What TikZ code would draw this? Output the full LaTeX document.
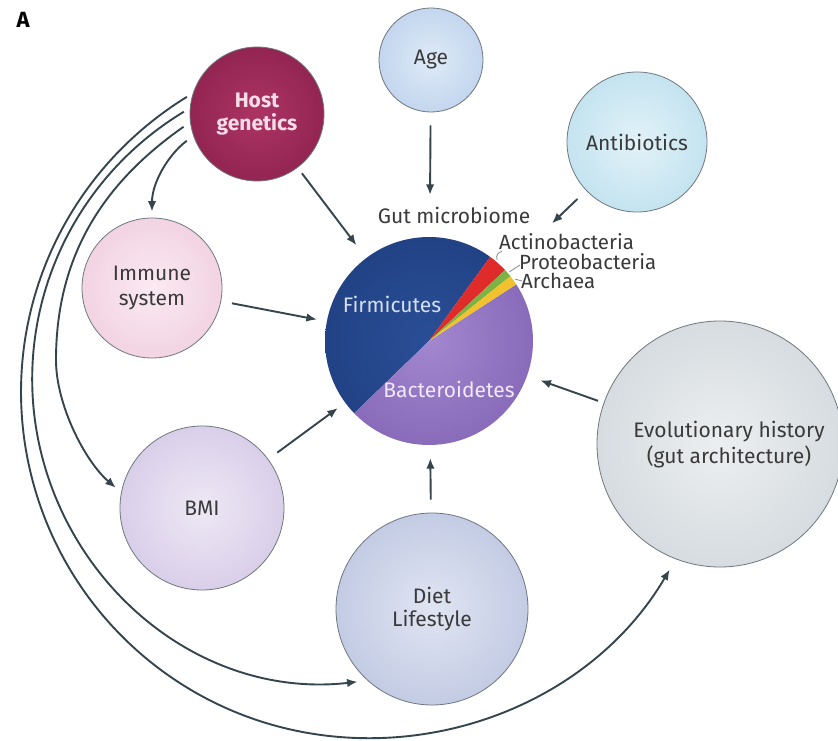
\documentclass[tikz,border=0pt]{standalone}
\usepackage{fontspec}
\setmainfont{Fira Sans}
\usetikzlibrary{arrows.meta,calc}

\definecolor{arrowc}{HTML}{34454D}
\definecolor{edgec}{HTML}{6E7780}
\definecolor{textc}{HTML}{3A3A3A}
\definecolor{leadc}{HTML}{8A8A8A}
\definecolor{ageIn}{HTML}{DEEAF7}
\definecolor{ageOut}{HTML}{A9C3E6}
\definecolor{hostIn}{HTML}{AC3463}
\definecolor{hostOut}{HTML}{7A1641}
\definecolor{antiIn}{HTML}{E2F2F8}
\definecolor{antiOut}{HTML}{A6D5E8}
\definecolor{immIn}{HTML}{FBEAF2}
\definecolor{immOut}{HTML}{E9BCD3}
\definecolor{bmiIn}{HTML}{EEE8F5}
\definecolor{bmiOut}{HTML}{C5B5DD}
\definecolor{dietIn}{HTML}{E0E5F2}
\definecolor{dietOut}{HTML}{A7B2D7}
\definecolor{evoIn}{HTML}{ECEFF1}
\definecolor{evoOut}{HTML}{C1C9CF}
\definecolor{firmIn}{HTML}{2A4E96}
\definecolor{firmOut}{HTML}{193674}
\definecolor{bactIn}{HTML}{A287CF}
\definecolor{bactOut}{HTML}{6F4FA5}
\definecolor{actc}{HTML}{E02B2B}
\definecolor{proc}{HTML}{7DB244}
\definecolor{arcc}{HTML}{F2C12E}
\definecolor{hosttext}{HTML}{F8DDE9}
\definecolor{firmtext}{HTML}{D3E0F3}
\definecolor{bacttext}{HTML}{F1E8FA}

\pgfdeclareradialshading{shAge}{\pgfpoint{0bp}{0bp}}{color(0bp)=(ageIn);color(50bp)=(ageOut);color(100bp)=(ageOut)}
\pgfdeclareradialshading{shHost}{\pgfpoint{0bp}{0bp}}{color(0bp)=(hostIn);color(50bp)=(hostOut);color(100bp)=(hostOut)}
\pgfdeclareradialshading{shAnti}{\pgfpoint{0bp}{0bp}}{color(0bp)=(antiIn);color(50bp)=(antiOut);color(100bp)=(antiOut)}
\pgfdeclareradialshading{shImm}{\pgfpoint{0bp}{0bp}}{color(0bp)=(immIn);color(50bp)=(immOut);color(100bp)=(immOut)}
\pgfdeclareradialshading{shBmi}{\pgfpoint{0bp}{0bp}}{color(0bp)=(bmiIn);color(50bp)=(bmiOut);color(100bp)=(bmiOut)}
\pgfdeclareradialshading{shDiet}{\pgfpoint{0bp}{0bp}}{color(0bp)=(dietIn);color(50bp)=(dietOut);color(100bp)=(dietOut)}
\pgfdeclareradialshading{shEvo}{\pgfpoint{0bp}{0bp}}{color(0bp)=(evoIn);color(50bp)=(evoOut);color(100bp)=(evoOut)}
\pgfdeclareradialshading{shFirm}{\pgfpoint{0bp}{0bp}}{color(0bp)=(firmIn);color(50bp)=(firmOut);color(100bp)=(firmOut)}
\pgfdeclareradialshading{shBact}{\pgfpoint{0bp}{0bp}}{color(0bp)=(bactIn);color(50bp)=(bactOut);color(100bp)=(bactOut)}

\newcommand\labfont{\fontsize{21}{24.5}\selectfont}
\newcommand\smallfont{\fontsize{20.5}{22}\selectfont}

\tikzset{
  bub/.style={circle, draw=edgec, line width=0.8pt, inner sep=0pt, align=center,
              font=\labfont, text=textc, shade},
  arr/.style={draw=arrowc, line width=1.9pt, -{Latex[length=10.5pt,width=8.5pt]}},
  lead/.style={draw=leadc, line width=0.8pt},
  plain/.style={font=\labfont, text=textc, align=center, inner sep=1pt},
}

\begin{document}
\begin{tikzpicture}[x=1pt,y=-1pt]
\useasboundingbox (0,0) rectangle (838,741);
\fill[white] (0,0) rectangle (838,741);
\clip (0,0) rectangle (838,741);

% label A
\node[font=\bfseries\fontsize{22}{24}\selectfont, text=black] (lblA) at (23,20) {A};

% bubbles
\node[bub, minimum size=104pt, shading=shAge] (age) at (431,60) {Age};
\node[bub, minimum size=134pt, shading=shHost, text=hosttext, font=\fontsize{21}{23}\selectfont\bfseries] (host) at (257,114) {Host\\genetics};
\node[bub, minimum size=140pt, shading=shAnti] (anti) at (637,142) {Antibiotics};
\node[bub, minimum size=140pt, shading=shImm] (immune) at (152,288) {Immune\\system};
\node[bub, minimum size=164pt, shading=shBmi] (bmi) at (202,508) {BMI};
\node[bub, minimum size=192pt, shading=shDiet, font=\fontsize{21}{23}\selectfont] (diet) at (432,609) {Diet\\Lifestyle};
\node[bub, minimum size=246pt, shading=shEvo] (evo) at (720,444) {};
\node[plain, font=\fontsize{21}{26}\selectfont] (evotext) at (729,445) {Evolutionary history\\(gut architecture)};

% pie chart
\node[circle, minimum size=208pt, inner sep=0pt] (pie) at (429,341) {};
\begin{scope}
  \clip (pie.center) -- ($(pie.center)+(54:104pt)$) arc[start angle=54, end angle=224, radius=104pt] -- cycle;
  \shade[shading=shFirm] (pie.center) circle[radius=104pt];
\end{scope}
\begin{scope}
  \clip (pie.center) -- ($(pie.center)+(224:104pt)$) arc[start angle=224, end angle=393, radius=104pt] -- cycle;
  \shade[shading=shBact] (pie.center) circle[radius=104pt];
\end{scope}
\fill[actc] (pie.center) -- ($(pie.center)+(43:104pt)$) arc[start angle=43, end angle=54, radius=104pt] -- cycle;
\fill[proc] (pie.center) -- ($(pie.center)+(38.5:104pt)$) arc[start angle=38.5, end angle=43, radius=104pt] -- cycle;
\fill[arcc] (pie.center) -- ($(pie.center)+(33:104pt)$) arc[start angle=33, end angle=38.5, radius=104pt] -- cycle;

\node[plain, text=firmtext] (firm) at (392,304) {Firmicutes};
\node[plain, text=bacttext] (bact) at (449,389) {Bacteroidetes};

\node[plain] (gut) at (454,215) {Gut microbiome};
\node[plain, anchor=west, font=\smallfont] (actino) at (498,242) {Actinobacteria};
\node[plain, anchor=west, font=\smallfont] (proteo) at (518,262) {Proteobacteria};
\node[plain, anchor=west, font=\smallfont] (archaea) at (520,281) {Archaea};

\coordinate (wa) at ($(pie.center)+(50:106pt)$);
\coordinate (wp) at ($(pie.center)+(40.7:106pt)$);
\coordinate (wr) at ($(pie.center)+(35.7:106pt)$);
\draw[lead] (wa) .. controls +(-2,-5) and +(-3,1) .. ($(actino.south west)+(4,0)$);
\draw[lead] (wp) -- ($(proteo.west)+(2,3)$);
\draw[lead] (wr) -- ($(archaea.west)+(2,0)$);

% straight arrows into the microbiome
\draw[arr, shorten <=13pt, shorten >=42pt] (age) -- (pie);
\draw[arr, shorten <=12pt, shorten >=66pt] (anti) -- (pie);
\draw[arr, shorten <=7pt, shorten >=16pt] (host) -- (pie);
\draw[arr, shorten <=11pt, shorten >=10pt] (immune) -- (pie);
\draw[arr, shorten <=11pt, shorten >=9pt] (bmi) -- (pie);
\draw[arr, shorten <=13pt, shorten >=13pt] (diet) -- (pie);
\draw[arr, shorten <=6pt, shorten >=14pt] (evo) -- (pie);

% curved arrows from host genetics
\draw[arr, shorten <=7pt, shorten >=12pt] (host.162) .. controls (62.8,173.2) and (-0.1,316.7) .. (27.4,458.0)
   .. controls (54.9,599.3) and (166.9,708.9) .. (308.7,733.1)
   .. controls (450.5,757.3) and (596.6,693.8) .. (evo.249);
\draw[arr, shorten <=7pt, shorten >=10pt] (host.175) .. controls (61.2,185.9) and (4.5,332.2) .. (45.3,468.1)
   .. controls (86.1,604.0) and (213.8,698.2) .. (diet.228);
\draw[arr, shorten <=8pt, shorten >=7pt] (host.187) .. controls (109,179) and (56,250) .. (56,360)
   .. controls (56,405) and (85.1,461.4) .. (bmi.169);
\draw[arr, shorten <=8pt, shorten >=6pt] (host.199) .. controls (169,154) and (152,182) .. (immune.north);
\end{tikzpicture}
\end{document}
